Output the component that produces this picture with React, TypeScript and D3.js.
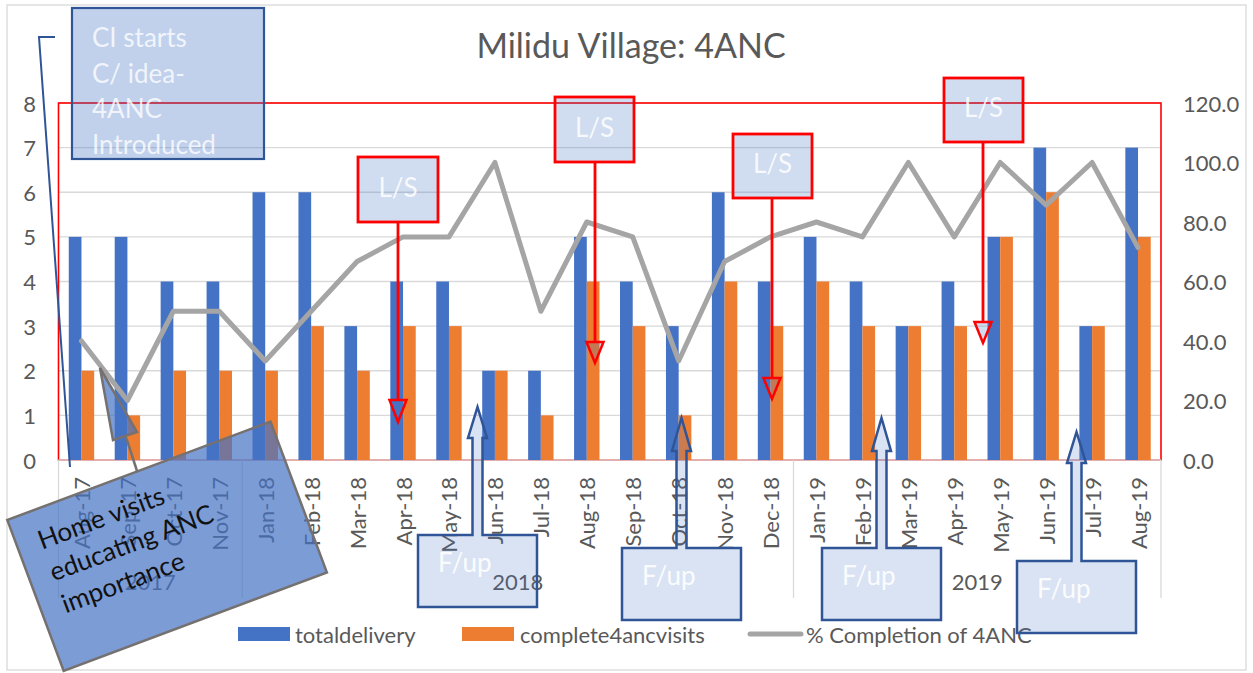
import React from 'react';
import * as d3 from 'd3';

// ---------- data ----------
const months = ['Aug-17','Sep-17','Oct-17','Nov-17','Jan-18','Feb-18','Mar-18','Apr-18','May-18','Jun-18','Jul-18','Aug-18','Sep-18','Oct-18','Nov-18','Dec-18','Jan-19','Feb-19','Mar-19','Apr-19','May-19','Jun-19','Jul-19','Aug-19'];
const totalDelivery = [5,5,4,4,6,6,3,4,4,2,2,5,4,3,6,4,5,4,3,4,5,7,3,7];
const complete4anc = [2,1,2,2,2,3,2,3,3,2,1,4,3,1,4,3,4,3,3,3,5,6,3,5];
const pctCompletion = [40,20,50,50,33.3,50,66.7,75,75,100,50,80,75,33.3,66.7,75,80,75,100,75,100,85.7,100,71.4];
const leftTicks = [0,1,2,3,4,5,6,7,8];
const rightTicks = [0,20,40,60,80,100,120];
const seriesNames = ['totaldelivery','complete4ancvisits','% Completion of 4ANC'];
const title = 'Milidu Village: 4ANC';

// annotation overlays (pixel geometry of drawn shapes)
const lsBoxes = [
  { x: 358, y: 157, w: 80, h: 65, ax: 398, triTop: 400, tip: 422 },
  { x: 555, y: 97, w: 79, h: 65, ax: 595, triTop: 342, tip: 363 },
  { x: 733, y: 134, w: 79, h: 64, ax: 772, triTop: 378, tip: 399 },
  { x: 944, y: 78, w: 79, h: 64, ax: 983, triTop: 322, tip: 343 },
];
const fupBoxes = [
  { x: 418, y: 535, tip: 407, base: 438 },
  { x: 622, y: 548, tip: 418, base: 451 },
  { x: 822, y: 548, tip: 418, base: 451 },
  { x: 1017, y: 561, tip: 432, base: 463 },
];
const ciLines = ['CI starts', 'C/ idea-', '4ANC', 'Introduced'];
const homeLines = ['Home visits', 'educating ANC', 'importance'];

const W = 1253, H = 673;
const PL = 58.5, PR = 1161, PT = 103, PB = 460;
const FONT = "Lato, 'Open Sans', sans-serif";
const TXT = '#595959';
const BLUE = '#4472c4', ORANGE = '#ed7d31', GRAY = '#a5a5a5';

export default function App() {
  const x = d3.scaleBand<string>().domain(months).range([PL, PR]).padding(0);
  const bw = x.bandwidth();
  const barW = 12.7;
  const x1 = d3.scaleBand<string>().domain(['t', 'c']).range([bw / 2 - barW, bw / 2 + barW]).padding(0);
  const yL = d3.scaleLinear().domain([0, 8]).range([PB, PT]);
  const yR = d3.scaleLinear().domain([0, 120]).range([PB, PT]);
  const cx = (m: string) => (x(m) as number) + bw / 2;
  const line = d3.line<number>().x((_, i) => cx(months[i])).y(d => yR(d));

  const yearOf = (m: string) => '20' + m.slice(-2);
  const groups = d3.groups(months.map((m, i) => ({ m, i })), d => yearOf(d.m));
  const boundaries = [PL, ...groups.map(g => (x(g[1][g[1].length - 1].m) as number) + bw)];

  return (
    <div style={{ position: 'fixed', left: 0, top: 0 }}>
      <svg width={W} height={H} style={{ display: 'block', background: '#fff' }} fontFamily={FONT}>
        <rect x={7} y={5} width={1239} height={665} fill="#fff" stroke="#d9d9d9" strokeWidth={1.3} />
        <text x={631} y={58} textAnchor="middle" fontSize={34} fill={TXT}>{title}</text>

        {leftTicks.slice(1).map(t => (
          <line key={t} x1={PL} x2={PR} y1={yL(t)} y2={yL(t)} stroke="#d9d9d9" strokeWidth={1.3} />
        ))}
        <rect x={PL} y={PT} width={PR - PL} height={PB - PT} fill="none" stroke="#ff0000" strokeWidth={1.6} />
        <line x1={PL} x2={PR} y1={PB} y2={PB} stroke="#d9d9d9" strokeWidth={1.5} />

        {months.map((m, i) => (
          <g key={m}>
            <rect x={(x(m) as number) + (x1('t') as number)} y={yL(totalDelivery[i])} width={x1.bandwidth()} height={yL(0) - yL(totalDelivery[i])} fill={BLUE} />
            <rect x={(x(m) as number) + (x1('c') as number)} y={yL(complete4anc[i])} width={x1.bandwidth()} height={yL(0) - yL(complete4anc[i])} fill={ORANGE} />
          </g>
        ))}
        <path d={line(pctCompletion) || ''} fill="none" stroke={GRAY} strokeWidth={5} strokeLinejoin="round" strokeLinecap="round" />

        {leftTicks.map(t => (
          <text key={t} x={36} y={yL(t)} textAnchor="end" dominantBaseline="central" fontSize={22} fill={TXT}>{t}</text>
        ))}
        {rightTicks.map(t => (
          <text key={t} x={1183} y={yR(t)} textAnchor="start" dominantBaseline="central" fontSize={22} fill={TXT}>{d3.format('.1f')(t)}</text>
        ))}

        {months.map(m => (
          <text key={m} transform={`translate(${cx(m)},477) rotate(-90)`} textAnchor="end" dominantBaseline="central" fontSize={22} fill={TXT}>{m}</text>
        ))}
        {boundaries.map((b, i) => (
          <line key={i} x1={b} x2={b} y1={PB} y2={598} stroke="#d9d9d9" strokeWidth={1.3} />
        ))}
        {groups.map(([yr, items], gi) => (
          <text key={yr} x={(boundaries[gi] + boundaries[gi + 1]) / 2} y={590} textAnchor="middle" fontSize={22} fill={TXT}>{yr}</text>
        ))}

        {/* legend */}
        <rect x={238} y={627} width={52} height={14} fill={BLUE} />
        <text x={295} y={634} dominantBaseline="central" fontSize={22} fill={TXT}>{seriesNames[0]}</text>
        <rect x={462} y={627} width={52} height={14} fill={ORANGE} />
        <text x={520} y={634} dominantBaseline="central" fontSize={22} fill={TXT}>{seriesNames[1]}</text>
        <line x1={750} x2={801} y1={634} y2={634} stroke={GRAY} strokeWidth={5} strokeLinecap="round" />
        <text x={806} y={634} dominantBaseline="central" fontSize={22} fill={TXT}>{seriesNames[2]}</text>

        {/* CI starts callout */}
        <polyline points="55,37 39,37 70,467" fill="none" stroke="#2f5597" strokeWidth={2} />
        <rect x={72} y={8} width={192} height={151} fill={BLUE} fillOpacity={0.33} stroke="#2f5597" strokeWidth={2.2} />
        {ciLines.map((t, i) => (
          <text key={t} x={92} y={47 + i * 35.5} fontSize={26} fill="#fff" fillOpacity={0.78}>{t}</text>
        ))}

        {/* L/S boxes with red arrows */}
        {lsBoxes.map((b, i) => (
          <g key={i}>
            <line x1={b.ax} x2={b.ax} y1={b.y + b.h} y2={b.triTop} stroke="#ff0000" strokeWidth={2.8} />
            <polygon points={`${b.ax - 8.5},${b.triTop} ${b.ax + 8.5},${b.triTop} ${b.ax},${b.tip}`} fill={BLUE} fillOpacity={0.25} stroke="#ff0000" strokeWidth={2.5} strokeLinejoin="miter" />
            <rect x={b.x} y={b.y} width={b.w} height={b.h} fill={BLUE} fillOpacity={0.25} stroke="#ff0000" strokeWidth={2.8} />
            <text x={b.x + b.w / 2} y={b.y + b.h / 2 - 3} textAnchor="middle" dominantBaseline="central" fontSize={26} fill="#fff" fillOpacity={0.85}>L/S</text>
          </g>
        ))}

        {/* F/up up-arrow callouts */}
        {fupBoxes.map((b, i) => {
          const w = 119, h = 72, c = b.x + w / 2;
          const d = `M${b.x},${b.y} H${c - 5} V${b.base} H${c - 9.5} L${c},${b.tip} L${c + 9.5},${b.base} H${c + 5} V${b.y} H${b.x + w} V${b.y + h} H${b.x} Z`;
          return (
            <g key={i}>
              <path d={d} fill={BLUE} fillOpacity={0.2} stroke="#2f5597" strokeWidth={2.5} strokeLinejoin="miter" />
              <text x={b.x + 20} y={b.y + 37} fontSize={26} fill="#fff" fillOpacity={0.9}>F/up</text>
            </g>
          );
        })}

        {/* Home visits rotated callout */}
        <line x1={137} y1={471} x2={126} y2={437} stroke="#767171" strokeWidth={2.5} />
        <polygon points="113,440 137,432 100,368" fill={BLUE} fillOpacity={0.7} stroke="#767171" strokeWidth={2.5} />
        <g transform="translate(7.3,520) rotate(-20.5)">
          <rect x={0} y={0} width={281} height={161} fill={BLUE} fillOpacity={0.7} stroke="#767171" strokeWidth={2.5} />
          {homeLines.map((t, i) => (
            <text key={t} x={22} y={40 + i * 34} fontSize={26} fill="#111">{t}</text>
          ))}
        </g>
      </svg>
    </div>
  );
}
